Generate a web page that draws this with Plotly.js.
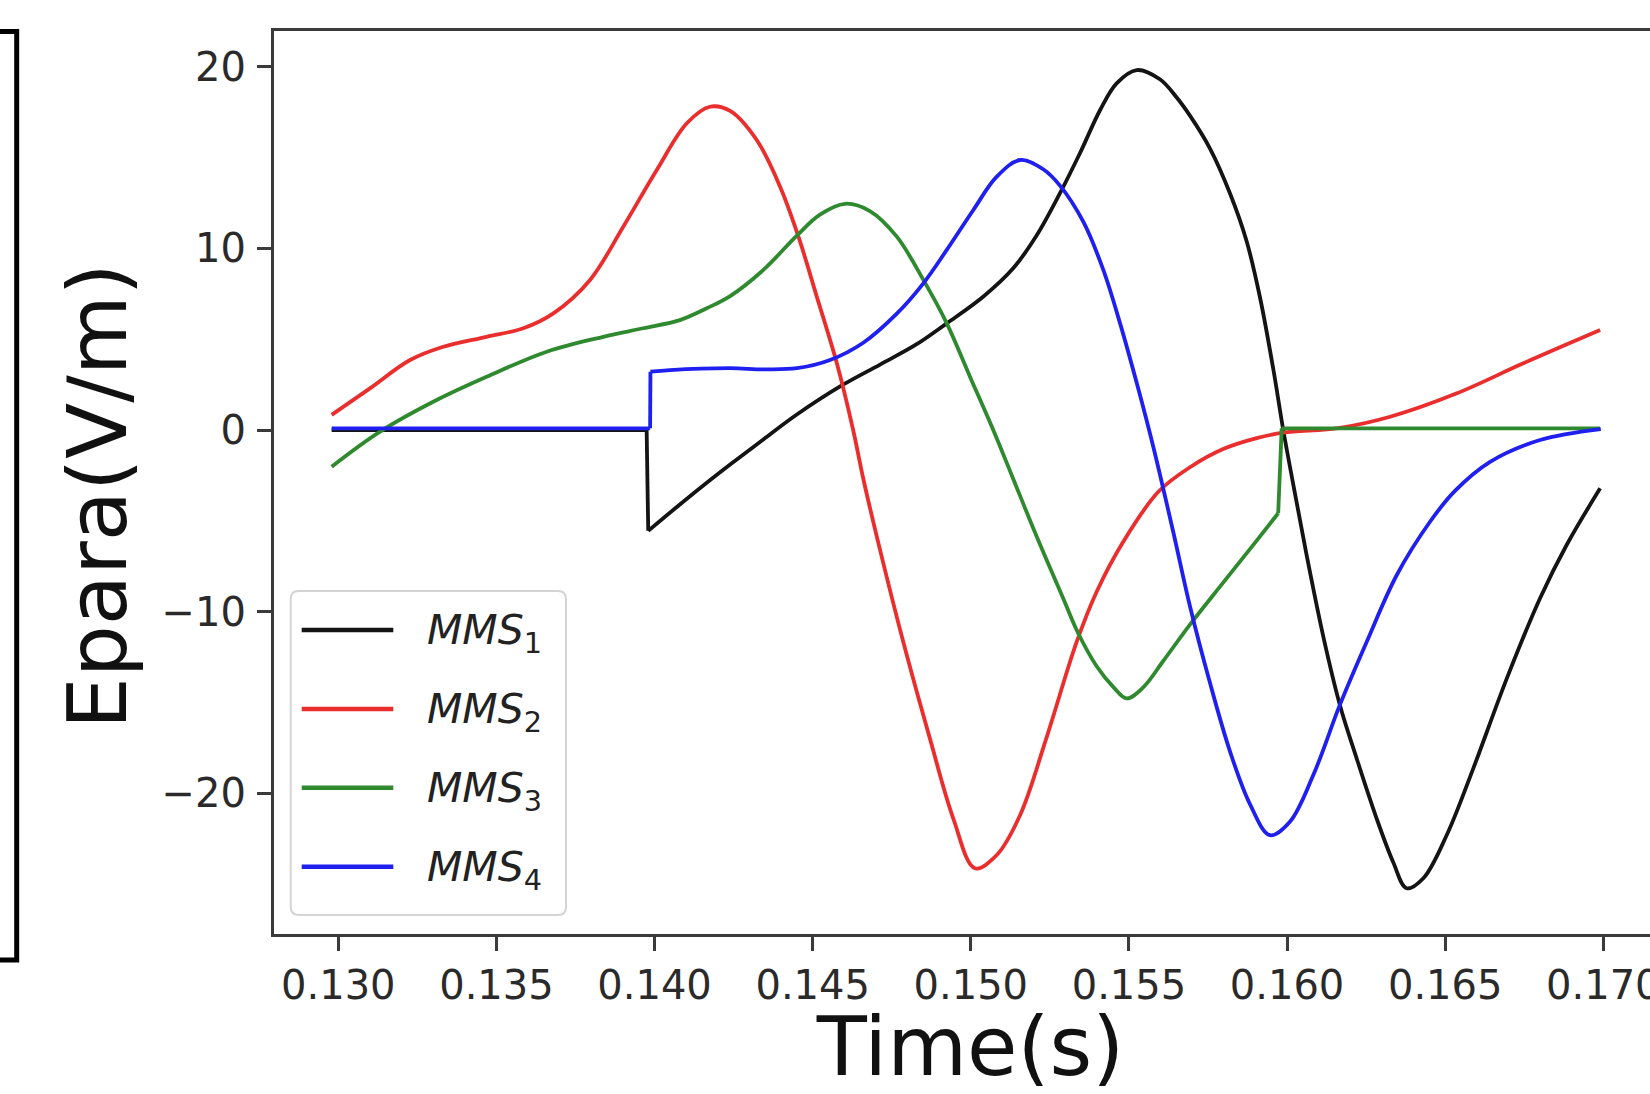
<!DOCTYPE html>
<html>
<head>
<meta charset="utf-8">
<script src="https://cdn.plot.ly/plotly-3.0.1.min.js"></script>
<style>
  html, body { margin: 0; padding: 0; overflow: hidden; background: #ffffff; width: 1650px; height: 1094px; }
  #chart { width: 1700px; height: 1094px; }
</style>
</head>
<body>
<div id="chart"></div>
<script>
// ---------------- data ----------------
const t_MMS1 = [0.12979, 0.13975, 0.13980, 0.14080, 0.14169, 0.14239, 0.14344, 0.14450, 0.14592, 0.14713,
  0.14829, 0.14924, 0.15040, 0.15134, 0.15208, 0.15282, 0.15345, 0.15409, 0.15461, 0.15525,
  0.15598, 0.15651, 0.15693, 0.15756, 0.15820, 0.15872, 0.15915, 0.15957, 0.15988, 0.16020,
  0.16062, 0.16115, 0.16167, 0.16220, 0.16283, 0.16336, 0.16378, 0.16431, 0.16505, 0.16589,
  0.16695, 0.16800, 0.16884, 0.16990];
const E_MMS1 = [0, 0, -5.55, -4.10, -2.85, -1.90, -0.52, 0.85, 2.45, 3.60,
  4.72, 5.87, 7.35, 8.90, 10.70, 13.03, 15.23, 17.61, 19.08, 19.81,
  19.30, 18.30, 17.30, 15.50, 13.00, 10.40, 7.25, 3.30, 0, -3.03,
  -6.90, -11.40, -15.13, -18.07, -21.37, -23.80, -25.22, -24.67, -22.29, -18.62,
  -13.67, -9.26, -6.33, -3.21];

const t_MMS2 = [0.12979, 0.13100, 0.13227, 0.13332, 0.13469, 0.13585, 0.13680, 0.13796, 0.13901, 0.14007,
  0.14102, 0.14175, 0.14239, 0.14323, 0.14397, 0.14455, 0.14513, 0.14576, 0.14628, 0.14659,
  0.14713, 0.14787, 0.14871, 0.14945, 0.15013, 0.15082, 0.15156, 0.15240, 0.15335, 0.15398,
  0.15482, 0.15593, 0.15693, 0.15798, 0.15904, 0.15988, 0.16167, 0.16326, 0.16537, 0.16747,
  0.16990];
const E_MMS2 = [0.83, 2.29, 3.85, 4.58, 5.13, 5.60, 6.42, 8.26, 11.19, 14.31,
  16.88, 17.79, 17.56, 15.96, 13.39, 10.64, 7.34, 3.70, 0, -2.60,
  -6.60, -11.70, -17.00, -21.40, -24.12, -23.39, -21.19, -16.90, -11.65, -8.90,
  -6.15, -3.40, -2.05, -1.05, -0.45, -0.15, 0.12, 0.73, 2.02, 3.67,
  5.50];

const t_MMS3 = [0.12979, 0.13132, 0.13311, 0.13469, 0.13659, 0.13838, 0.13964, 0.14080, 0.14165, 0.14239,
  0.14344, 0.14450, 0.14523, 0.14602, 0.14681, 0.14766, 0.14850, 0.14924, 0.14997, 0.15071,
  0.15132, 0.15208, 0.15293, 0.15340, 0.15398, 0.15451, 0.15493, 0.15546, 0.15609, 0.15693,
  0.15798, 0.15904, 0.15972, 0.15983, 0.16300, 0.16600, 0.16990];
const E_MMS3 = [-2.02, -0.09, 1.65, 2.93, 4.31, 5.13, 5.60, 6.05, 6.70, 7.37,
  8.81, 10.70, 11.85, 12.45, 12.05, 10.64, 8.26, 5.87, 2.95, 0,
  -2.60, -5.85, -9.30, -11.20, -13.00, -14.15, -14.77, -14.15, -12.70, -10.71,
  -8.40, -6.09, -4.58, 0.09, 0.09, 0.09, 0.09];

const t_MMS4 = [0.12979, 0.13986, 0.13987, 0.14049, 0.14239, 0.14344, 0.14450, 0.14555, 0.14660, 0.14766,
  0.14850, 0.14924, 0.15008, 0.15082, 0.15156, 0.15229, 0.15282, 0.15356, 0.15419, 0.15472,
  0.15525, 0.15577, 0.15640, 0.15693, 0.15756, 0.15820, 0.15883, 0.15946, 0.16009, 0.16083,
  0.16167, 0.16252, 0.16347, 0.16452, 0.16531, 0.16642, 0.16800, 0.16992];
const E_MMS4 = [0.09, 0.09, 3.21, 3.30, 3.40, 3.34, 3.40, 3.85, 4.80, 6.40,
  8.07, 9.91, 12.11, 13.94, 14.86, 14.35, 13.45, 11.45, 8.81, 5.87,
  2.57, -0.92, -5.60, -9.70, -13.90, -17.71, -20.60, -22.30, -21.56, -18.99,
  -15.13, -11.65, -7.98, -5.05, -3.35, -1.75, -0.55, 0.05];

const seriesTimes = [t_MMS1, t_MMS2, t_MMS3, t_MMS4];
const seriesValues = [E_MMS1, E_MMS2, E_MMS3, E_MMS4];
const seriesLabels = ['<i>MMS</i><sub>1</sub>', '<i>MMS</i><sub>2</sub>', '<i>MMS</i><sub>3</sub>', '<i>MMS</i><sub>4</sub>'];
const xTickVals = [0.130, 0.135, 0.140, 0.145, 0.150, 0.155, 0.160, 0.165, 0.170];
const yTickVals = [-20, -10, 0, 10, 20];
const xTitle = 'Time(s)';
const yTitle = 'Epara(V/m)';

// ---------------- styling / geometry ----------------
const lineColors = ['#141414', '#ea2d2d', '#2f8a2f', '#1f1ff0'];
const FONT = 'DejaVu Sans, Liberation Sans, sans-serif';
const W = 1700, H = 1094, ML = 274, MR = 33, MT = 31, MB = 160;
const PW = W - ML - MR, PH = H - MT - MB;
const px2x = X => (X - ML) / PW;
const px2y = Y => (H - MB - Y) / PH;

// split a series where it steps (near-vertical jump), so the smooth parts
// are drawn as splines and the steps stay sharp
function splitSeries(t, v) {
  const segs = [], jumps = [];
  let cur = [0];
  for (let i = 1; i < t.length; i++) {
    const dt = t[i] - t[i - 1], dv = Math.abs(v[i] - v[i - 1]);
    if (dt < 0.00015 && dv / dt > 30000) { segs.push(cur); jumps.push([i - 1, i]); cur = [i]; }
    else cur.push(i);
  }
  segs.push(cur);
  return { segs, jumps };
}

const LW = 3.8;
const traces = [];
seriesTimes.forEach((t, k) => {
  const v = seriesValues[k];
  const { segs, jumps } = splitSeries(t, v);
  segs.forEach(seg => {
    traces.push({
      type: 'scatter', mode: 'lines', showlegend: false, hoverinfo: 'skip',
      x: seg.map(i => t[i]), y: seg.map(i => v[i]),
      line: { color: lineColors[k], width: LW, shape: seg.length > 2 ? 'spline' : 'linear', smoothing: 1 }
    });
  });
  jumps.forEach(j => {
    traces.push({
      type: 'scatter', mode: 'lines', showlegend: false, hoverinfo: 'skip',
      x: j.map(i => t[i]), y: j.map(i => v[i]),
      line: { color: lineColors[k], width: LW, shape: 'linear' }
    });
  });
});

// legend (matplotlib-style box with long line handles)
const shapes = [];
const annotations = [];
const lgX0 = px2x(290.7), lgX1 = px2x(566), lgY0 = px2y(915), lgY1 = px2y(591);
const rx = 8 / PW, ry = 8 / PH;
shapes.push({
  type: 'path', xref: 'paper', yref: 'paper', layer: 'above',
  path: `M${lgX0 + rx},${lgY1} L${lgX1 - rx},${lgY1} Q${lgX1},${lgY1} ${lgX1},${lgY1 - ry} ` +
        `L${lgX1},${lgY0 + ry} Q${lgX1},${lgY0} ${lgX1 - rx},${lgY0} L${lgX0 + rx},${lgY0} ` +
        `Q${lgX0},${lgY0} ${lgX0},${lgY0 + ry} L${lgX0},${lgY1 - ry} Q${lgX0},${lgY1} ${lgX0 + rx},${lgY1} Z`,
  line: { color: '#d4d4d4', width: 2 }, fillcolor: 'rgba(255,255,255,0.85)'
});
const rowY = [630, 709, 787.7, 866.7];
seriesLabels.forEach((lab, k) => {
  shapes.push({
    type: 'line', xref: 'paper', yref: 'paper', layer: 'above',
    x0: px2x(301.7), x1: px2x(393.3), y0: px2y(rowY[k]), y1: px2y(rowY[k]),
    line: { color: lineColors[k], width: 4.6 }
  });
  annotations.push({
    xref: 'paper', yref: 'paper', x: px2x(425), y: px2y(rowY[k] + 3),
    xanchor: 'left', yanchor: 'middle', showarrow: false, text: lab,
    font: { family: FONT, size: 41, color: '#222' }
  });
});

// y axis title, placed where the reference draws it
annotations.push({
  xref: 'paper', yref: 'paper', x: px2x(98), y: px2y(496),
  xanchor: 'center', yanchor: 'middle', showarrow: false, textangle: -90,
  text: yTitle, font: { family: FONT, size: 82, color: '#111' }
});

// black bracket at the left edge of the picture
shapes.push({
  type: 'path', xref: 'paper', yref: 'paper', layer: 'above',
  path: `M${px2x(-3)},${px2y(31.5)} L${px2x(16.7)},${px2y(31.5)} L${px2x(16.7)},${px2y(960)} L${px2x(-3)},${px2y(960)}`,
  line: { color: '#000000', width: 5 }
});

const axisCommon = {
  showline: true, mirror: true, linecolor: '#3a3a3a', linewidth: 3,
  ticks: 'outside', ticklen: 14, tickwidth: 3, tickcolor: '#3a3a3a',
  showgrid: false, zeroline: false, automargin: false,
  tickfont: { family: FONT, size: 40, color: '#2a2a2a' }
};

const layout = {
  width: W, height: H,
  margin: { l: ML, r: MR, t: MT, b: MB, pad: 0 },
  paper_bgcolor: '#ffffff', plot_bgcolor: '#ffffff',
  showlegend: false,
  xaxis: Object.assign({}, axisCommon, {
    range: [0.1279668, 0.1720142], tickvals: xTickVals, tickformat: '.3f',
    title: { text: xTitle, font: { family: FONT, size: 82, color: '#111' }, standoff: 2 }
  }),
  yaxis: Object.assign({}, axisCommon, {
    range: [-27.738, 21.959], tickvals: yTickVals, ticklabelstandoff: 3
  }),
  shapes: shapes,
  annotations: annotations
};

Plotly.newPlot('chart', traces, layout, { staticPlot: true, displayModeBar: false });
</script>
</body>
</html>
